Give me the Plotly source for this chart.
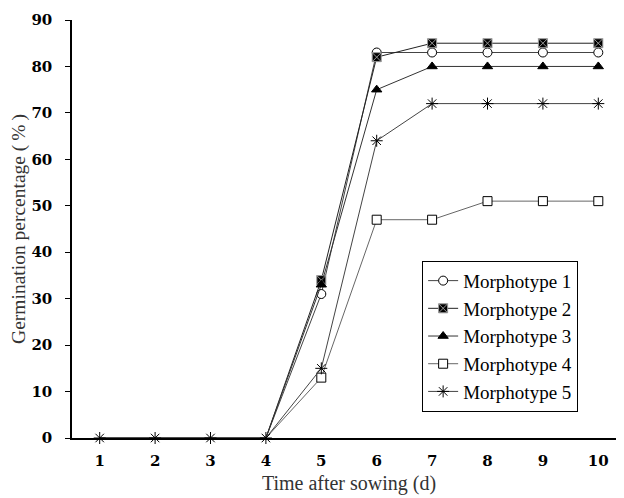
import plotly.graph_objects as go

days = [1, 2, 3, 4, 5, 6, 7, 8, 9, 10]
m1 = [0, 0, 0, 0, 31, 83, 83, 83, 83, 83]
m2 = [0, 0, 0, 0, 34, 82, 85, 85, 85, 85]
m3 = [0, 0, 0, 0, 33, 75, 80, 80, 80, 80]
m4 = [0, 0, 0, 0, 13, 47, 47, 51, 51, 51]
m5 = [0, 0, 0, 0, 15, 64, 72, 72, 72, 72]
names = ["Morphotype 1", "Morphotype 2", "Morphotype 3", "Morphotype 4", "Morphotype 5"]
yticks = [0, 10, 20, 30, 40, 50, 60, 70, 80, 90]

fig = go.Figure()
styles = [
    dict(symbol="circle", color="white", line=dict(color="black", width=1), size=9),
    dict(symbol="square-x", color="black", line=dict(color="#999999", width=1), size=9),
    dict(symbol="triangle-up", color="black", line=dict(color="black", width=1), size=9),
    dict(symbol="square", color="white", line=dict(color="black", width=1), size=9),
    dict(symbol="asterisk-open", color="black", line=dict(color="black", width=1), size=10),
]
linecols = ["#444444", "#222222", "#333333", "#666666", "#444444"]
visible_pts = [i for i, v in enumerate(m1) if v > 0]
for k, (vals, name, st, lc) in enumerate(zip([m1, m2, m3, m4, m5], names, styles, linecols)):
    extra = {}
    if k < 4:
        extra = dict(selectedpoints=visible_pts,
                     selected=dict(marker=dict(opacity=1)),
                     unselected=dict(marker=dict(opacity=0)))
    fig.add_trace(go.Scatter(
        x=days, y=vals, name=name, mode="lines+markers",
        line=dict(color=lc, width=1),
        marker=st, cliponaxis=False, **extra,
    ))

fig.update_layout(
    width=624, height=498,
    margin=dict(l=64, r=6, t=12, b=68),
    paper_bgcolor="white", plot_bgcolor="white",
    showlegend=True,
    legend=dict(
        x=0.632, y=0.424, xanchor="left", yanchor="top",
        bordercolor="black", borderwidth=1,
        font=dict(family="Liberation Serif", size=19, color="black"),
        tracegroupgap=0, itemwidth=30,
    ),
    xaxis=dict(
        range=[0.5, 10.5], tickmode="array", tickvals=days,
        ticktext=[f"<b>{d}</b>" for d in days],
        showline=True, linecolor="black", linewidth=1.5,
        showgrid=False, zeroline=False, ticks="", automargin=False,
        ticklabelstandoff=8,
        tickfont=dict(family="DejaVu Serif", size=15, color="black"),
        title=dict(text="Time after sowing (d)", standoff=7,
                   font=dict(family="Liberation Serif", size=20, color="#333333")),
    ),
    yaxis=dict(
        range=[0, 90], tickmode="array", tickvals=yticks,
        ticktext=[f"<b>{v}</b>" for v in yticks],
        showline=True, linecolor="black", linewidth=1.5,
        showgrid=False, zeroline=False, ticks="outside", ticklen=5, tickcolor="black",
        automargin=False, ticklabelstandoff=10,
        tickfont=dict(family="DejaVu Serif", size=15, color="black"),
        title=dict(text="Germination percentage (\u2009%\u2009)", standoff=8,
                   font=dict(family="Liberation Serif", size=19.5, color="#333333")),
    ),
)

fig.write_html("out.html")
